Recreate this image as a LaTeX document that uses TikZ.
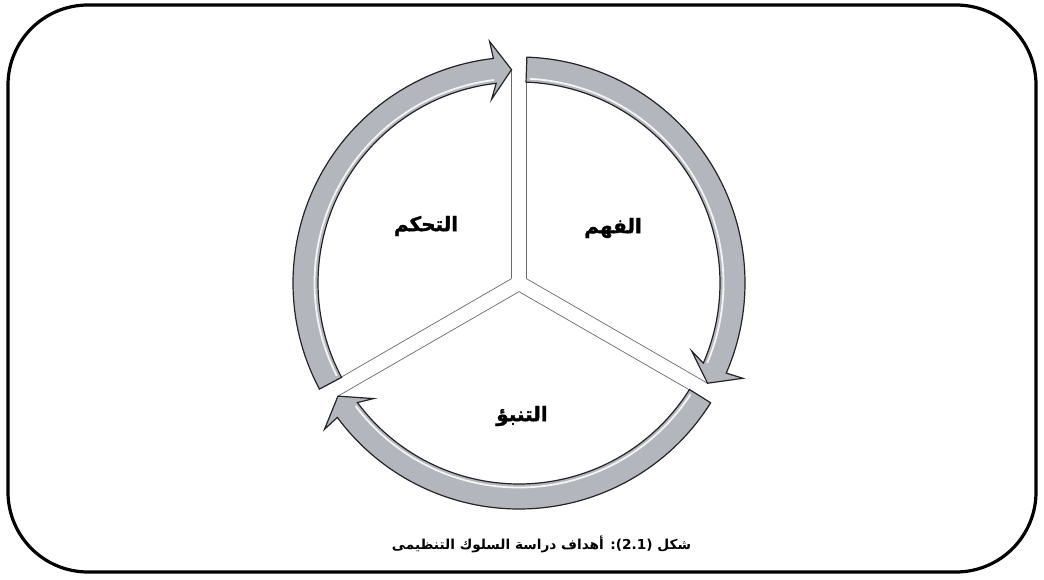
\documentclass[tikz,border=0pt]{standalone}
\usepackage{fontspec}
\newfontfamily\arabicfont[Script=Arabic]{DejaVu Sans}
\newfontfamily\arabicheavy[Script=Arabic,FakeBold=1.6]{DejaVu Sans Bold}
\TeXXeTstate=1
\usetikzlibrary{calc}
\definecolor{arrowgray}{RGB}{180,182,189}
\definecolor{edgegray}{RGB}{35,35,40}
\definecolor{linegray}{RGB}{105,105,105}
\newcommand\ringarrow[2]{%
  \path[ring] ($(C)+(#1:226)$) arc[start angle=#1, end angle=#2+4.5, radius=226]
    -- ($(C)+(#2:242.5)+(#2+90:21)$) -- ($(C)+(#2:213.5)$) -- ($(C)+(#2:184.5)+(#2+90:21)$)
    -- ($(C)+(#2+4.5:201)$) arc[start angle=#2+4.5, end angle=#1, radius=201] -- cycle;
  \draw[hilite] ($(C)+(#1-1:204.5)$) arc[start angle=#1-1, end angle=#2+5, radius=204.5];
}
\begin{document}
\begin{tikzpicture}[x=1pt,y=1pt,
  ring/.style={fill=arrowgray, draw=edgegray, line width=1.2pt, line join=miter},
  hilite/.style={draw=white, line width=1.8pt, opacity=0.85},
  gapline/.style={draw=linegray, line width=0.7pt},
  lbl/.style={font=\arabicheavy\fontsize{20}{24}\selectfont, inner sep=0pt},
  captext/.style={font=\arabicfont\bfseries\fontsize{13.7}{16}\selectfont, inner sep=0pt},
  frame/.style={draw=black, line width=3.2pt, rounded corners=80pt}]
\useasboundingbox (0,0) rectangle (1044,579);
\draw[frame] (8,7) rectangle (1036,574);
\coordinate (C) at (519,296);
% gap lines between the three sectors
\coordinate (P1) at ($(C)+(30:8.66)$);
\coordinate (P2) at ($(C)+(150:8.66)$);
\coordinate (P3) at ($(C)+(-90:8.66)$);
\coordinate (E1) at ($(C)+(92:213.5)$);
\coordinate (E2) at ($(C)+(88.1:226)$);
\coordinate (E3) at ($(C)+(-28:213.5)$);
\coordinate (E4) at ($(C)+(-32.1:201)$);
\coordinate (E5) at ($(C)+(207.9:201)$);
\coordinate (E6) at ($(C)+(212:213.5)$);
\draw[gapline] (P2) -- (E1);
\draw[gapline] (P1) -- (E2);
\draw[gapline] (P1) -- (E3);
\draw[gapline] (P3) -- (E4);
\draw[gapline] (P2) -- (E5);
\draw[gapline] (P3) -- (E6);
% ring arrows
\ringarrow{88}{-28}
\ringarrow{-32}{-148}
\ringarrow{208}{92}
% labels
\node[lbl] (fahm) at (613,351) {\beginR الفهم\endR};
\node[lbl] (tahakkum) at (426,353) {\beginR التحكم\endR};
\node[lbl] (tanabbu) at (522,163) {\beginR التنبؤ\endR};
\node[captext] (caption) at (541.5,35) {\beginR شكل \beginL(2.1)\endL: أهداف دراسة السلوك التنظيمى\endR};
\end{tikzpicture}
\end{document}
